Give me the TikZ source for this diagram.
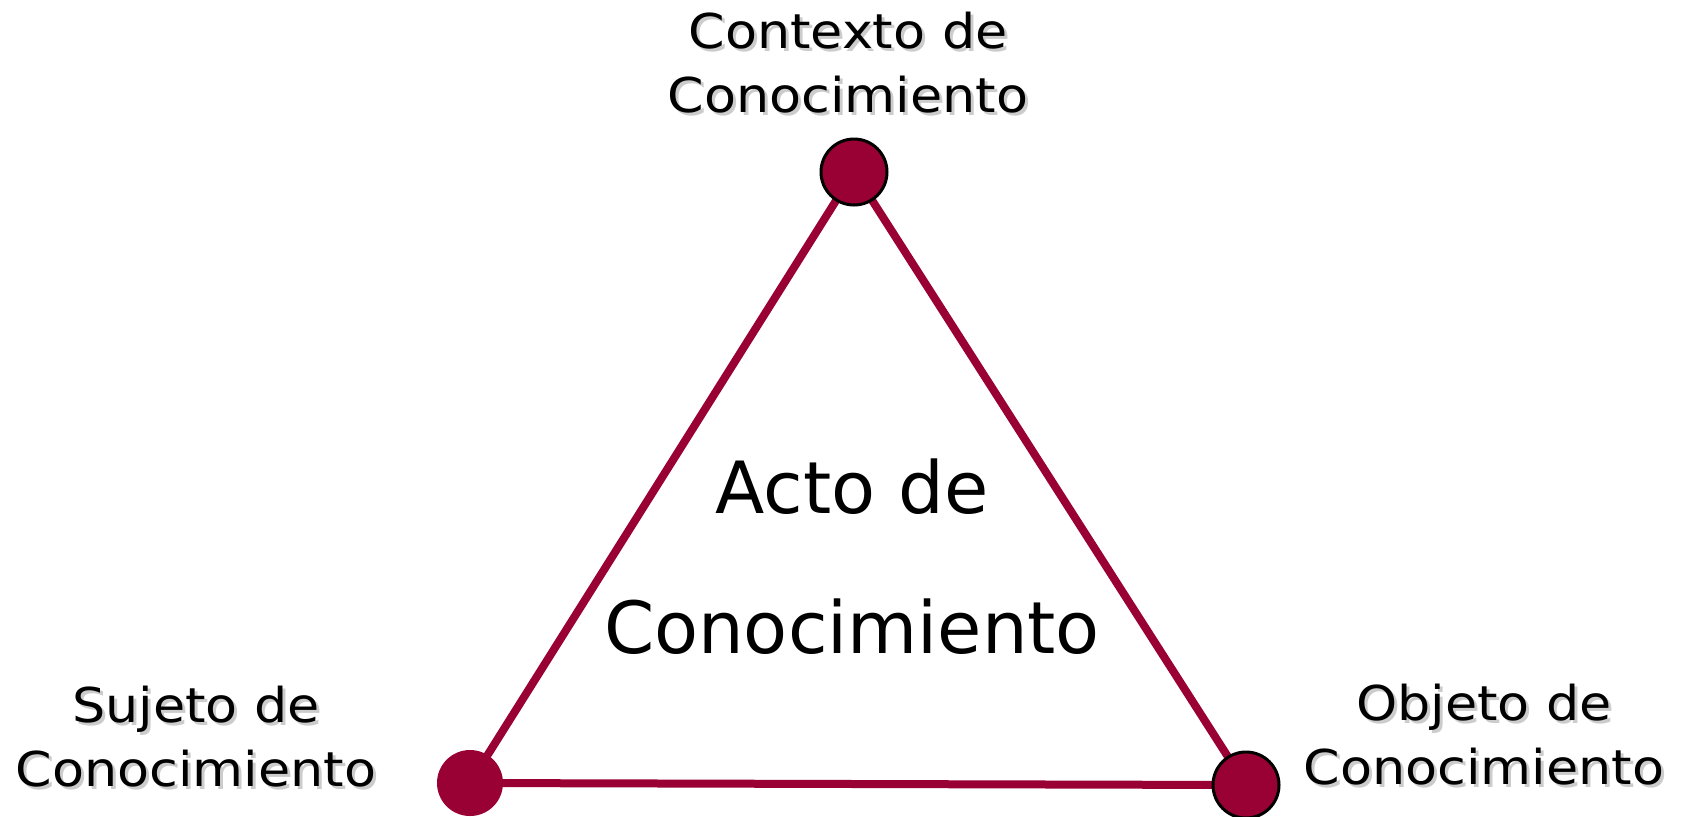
\documentclass[tikz,border=0pt]{standalone}
\usepackage{fontspec}
\setmainfont{DejaVu Sans}
\newfontfamily\labelfont[FakeStretch=1.09]{DejaVu Sans}
\usepackage{tikz}
\usetikzlibrary{positioning}
\definecolor{actored}{HTML}{990033}

\begin{document}
\begin{tikzpicture}[x=0.5pt, y=-0.5pt,
    vertex/.style={circle, fill=actored, draw=black, line width=1.5pt, minimum size=33pt, inner sep=0pt},
    side/.style={actored, line width=4pt},
    corner/.style={font=\labelfont\fontsize{24}{32}\selectfont, align=center, anchor=base, inner sep=0pt},
    cornershadow/.style={corner, text=black!20}]
            \useasboundingbox (0, 0) rectangle (1687, 816);
            % vertices of the triangle
            \coordinate (pctx) at (854, 172);
            \coordinate (psuj) at (470, 783);
            \coordinate (pobj) at (1246, 785);
            \draw[side] (pctx) -- (psuj);
            \draw[side] (pctx) -- (pobj);
            \draw[side] (psuj) -- (pobj);
            \node[vertex] (ctx) at (pctx) {};
            \node[vertex, draw=none] (suj) at (psuj) {};
            \node[vertex] (obj) at (pobj) {};
            % labels with their grey shadows (base = last line)
            \node[cornershadow] (ctxsh) at (851, 115) {Contexto de\\Conocimiento};
            \node[corner] (ctxlabel) at (848, 112) {Contexto de\\Conocimiento};
            \node[cornershadow] (sujsh) at (199, 789) {Sujeto de\\Conocimiento};
            \node[corner] (sujlabel) at (196, 786) {Sujeto de\\Conocimiento};
            \node[cornershadow] (objsh) at (1487, 787) {Objeto de\\Conocimiento};
            \node[corner] (objlabel) at (1484, 784) {Objeto de\\Conocimiento};
            % centre
            \node[font=\fontsize{36}{70}\selectfont, align=center, anchor=base, inner sep=0pt] (acto) at (852, 653) {Acto de\\Conocimiento};
        \end{tikzpicture}
\end{document}
